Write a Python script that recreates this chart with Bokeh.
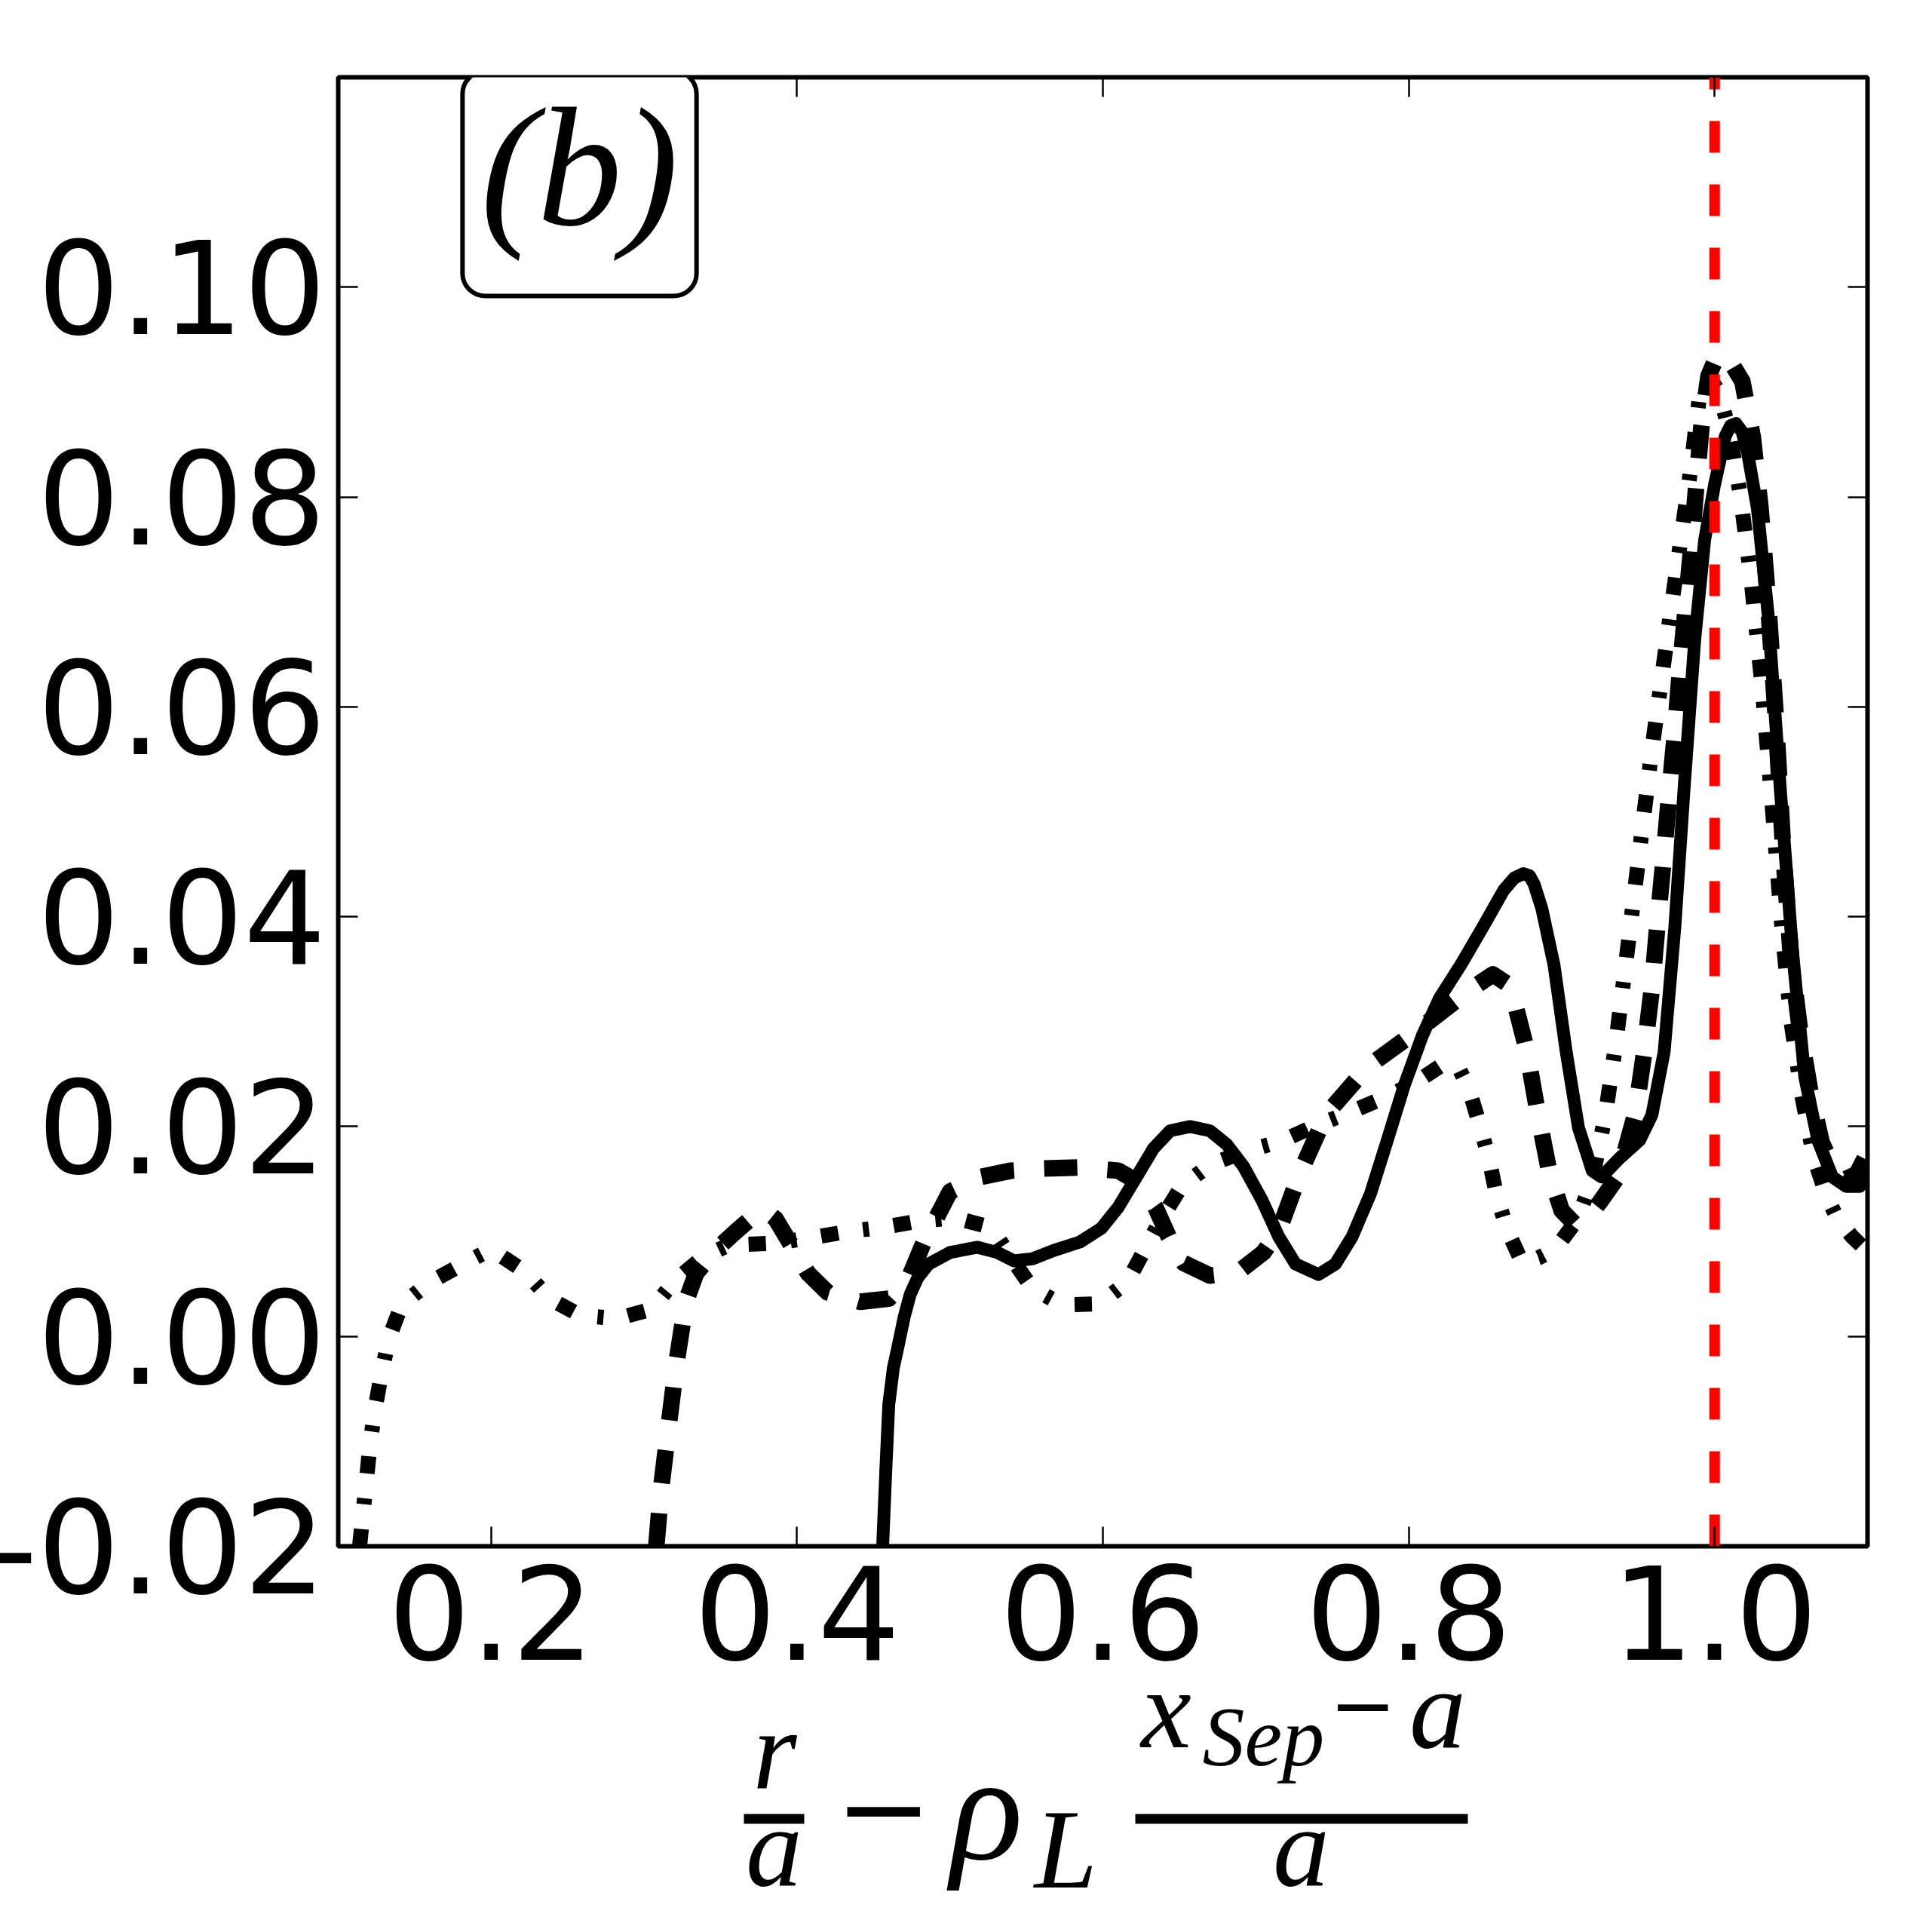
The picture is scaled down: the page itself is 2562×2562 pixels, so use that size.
from bokeh.plotting import figure
from bokeh.layouts import column
from bokeh.models import (Range1d, FixedTicker, LinearAxis, CustomJSTickFormatter, Label)
from bokeh.embed import file_html
from bokeh.resources import INLINE
from bokeh.core.properties import value

# ---------------- data ----------------
x_ticks = [0.2, 0.4, 0.6, 0.8, 1.0]
x_tick_labels = ["0.2", "0.4", "0.6", "0.8", "1.0"]
y_ticks = [-0.02, 0.0, 0.02, 0.04, 0.06, 0.08, 0.10]
y_tick_labels = ["-0.02", "0.00", "0.02", "0.04", "0.06", "0.08", "0.10"]

sep_x = 1.0  # separatrix position (red dashed line)

solid_x = [0.4560, 0.4580, 0.4600, 0.4630, 0.4660, 0.4700, 0.4740, 0.4790, 0.4860, 0.5000,
           0.5180, 0.5310, 0.5420, 0.5540, 0.5680, 0.5850, 0.5990, 0.6100, 0.6220, 0.6330,
           0.6440, 0.6570, 0.6700, 0.6810, 0.6920, 0.7040, 0.7150, 0.7260, 0.7410, 0.7520,
           0.7630, 0.7750, 0.7860, 0.7970, 0.8090, 0.8200, 0.8340, 0.8480, 0.8620, 0.8690,
           0.8750, 0.8790, 0.8820, 0.8870, 0.8950, 0.9030, 0.9110, 0.9200, 0.9260, 0.9380,
           0.9510, 0.9590, 0.9670, 0.9740, 0.9800, 0.9870, 0.9935, 1.0000, 1.0070, 1.0105,
           1.0140, 1.0180, 1.0215, 1.0280, 1.0350, 1.0430, 1.0510, 1.0590, 1.0675, 1.0770,
           1.0860, 1.0950, 1.1000]
solid_y = [-0.0200, -0.0130, -0.0065, -0.0030, -0.0010, 0.0018, 0.0040, 0.0056, 0.0069, 0.0080,
           0.0085, 0.0080, 0.0072, 0.0074, 0.0082, 0.0090, 0.0103, 0.0123, 0.0152, 0.0179,
           0.0196, 0.0200, 0.0196, 0.0183, 0.0162, 0.0130, 0.0095, 0.0069, 0.0059, 0.0069,
           0.0095, 0.0136, 0.0187, 0.0239, 0.0287, 0.0322, 0.0354, 0.0389, 0.0425, 0.0437,
           0.0441, 0.0439, 0.0431, 0.0408, 0.0354, 0.0271, 0.0199, 0.0158, 0.0152, 0.0170,
           0.0187, 0.0211, 0.0271, 0.0390, 0.0521, 0.0664, 0.0759, 0.0812, 0.0858, 0.0868,
           0.0870, 0.0862, 0.0843, 0.0789, 0.0688, 0.0521, 0.0366, 0.0247, 0.0187, 0.0152,
           0.0143, 0.0143, 0.0152]

dashed_x = [0.3080, 0.3112, 0.3162, 0.3213, 0.3275, 0.3340, 0.3450, 0.3600, 0.3720, 0.3791,
            0.3860, 0.3950, 0.4073, 0.4200, 0.4413, 0.4600, 0.4735, 0.4830, 0.4915, 0.5000,
            0.5204, 0.5400, 0.5614, 0.5850, 0.6100, 0.6220, 0.6344, 0.6430, 0.6528, 0.6700,
            0.6882, 0.7050, 0.7151, 0.7292, 0.7462, 0.7731, 0.8043, 0.8396, 0.8550, 0.8665,
            0.8770, 0.8840, 0.8920, 0.9000, 0.9080, 0.9150, 0.9250, 0.9370, 0.9483, 0.9541,
            0.9590, 0.9626, 0.9664, 0.9700, 0.9738, 0.9771, 0.9807, 0.9845, 0.9878, 0.9914,
            0.9960, 1.0017, 1.0100, 1.0182, 1.0250, 1.0300, 1.0350, 1.0400, 1.0450, 1.0500,
            1.0560, 1.0630, 1.0700, 1.0780, 1.0860, 1.0930, 1.1000]
dashed_y = [-0.0200, -0.0144, -0.0084, -0.0024, 0.0034, 0.0060, 0.0080, 0.0100, 0.0115, 0.0120,
            0.0112, 0.0090, 0.0060, 0.0042, 0.0033, 0.0036, 0.0057, 0.0090, 0.0114, 0.0138,
            0.0152, 0.0158, 0.0160, 0.0161, 0.0158, 0.0148, 0.0123, 0.0095, 0.0070, 0.0058,
            0.0061, 0.0080, 0.0101, 0.0157, 0.0212, 0.0257, 0.0290, 0.0330, 0.0345, 0.0334,
            0.0274, 0.0216, 0.0156, 0.0120, 0.0108, 0.0110, 0.0128, 0.0153, 0.0213, 0.0272,
            0.0332, 0.0392, 0.0451, 0.0511, 0.0570, 0.0630, 0.0688, 0.0748, 0.0807, 0.0867,
            0.0915, 0.0935, 0.0930, 0.0910, 0.0857, 0.0790, 0.0700, 0.0590, 0.0460, 0.0360,
            0.0290, 0.0230, 0.0185, 0.0160, 0.0150, 0.0155, 0.0175]

dashdot_x = [0.1140, 0.1157, 0.1182, 0.1205, 0.1238, 0.1281, 0.1331, 0.1414, 0.1590, 0.1804,
             0.2000, 0.2219, 0.2382, 0.2584, 0.2823, 0.3049, 0.3200, 0.3389, 0.3552, 0.3854,
             0.4093, 0.4332, 0.4564, 0.4798, 0.5034, 0.5269, 0.5400, 0.5538, 0.5736, 0.5976,
             0.6160, 0.6274, 0.6378, 0.6514, 0.6704, 0.6924, 0.7165, 0.7377, 0.7604, 0.7816,
             0.8034, 0.8241, 0.8330, 0.8391, 0.8459, 0.8524, 0.8572, 0.8643, 0.8742, 0.8850,
             0.8957, 0.9105, 0.9200, 0.9286, 0.9352, 0.9412, 0.9470, 0.9527, 0.9585, 0.9651,
             0.9716, 0.9782, 0.9848, 0.9905, 0.9960, 1.0030, 1.0100, 1.0170, 1.0240, 1.0310,
             1.0380, 1.0440, 1.0500, 1.0570, 1.0650, 1.0730, 1.0800, 1.0900, 1.1000]
dashdot_y = [-0.0200, -0.0175, -0.0141, -0.0107, -0.0071, -0.0037, -0.0002, 0.0030, 0.0051, 0.0068,
             0.0083, 0.0062, 0.0036, 0.0020, 0.0017, 0.0026, 0.0053, 0.0076, 0.0087, 0.0089,
             0.0094, 0.0100, 0.0104, 0.0110, 0.0113, 0.0104, 0.0075, 0.0046, 0.0030, 0.0031,
             0.0052, 0.0083, 0.0111, 0.0143, 0.0164, 0.0176, 0.0186, 0.0200, 0.0213, 0.0226,
             0.0241, 0.0261, 0.0255, 0.0237, 0.0204, 0.0170, 0.0136, 0.0102, 0.0070, 0.0075,
             0.0083, 0.0112, 0.0150, 0.0211, 0.0277, 0.0347, 0.0416, 0.0484, 0.0554, 0.0624,
             0.0694, 0.0762, 0.0831, 0.0901, 0.0915, 0.0900, 0.0860, 0.0800, 0.0720, 0.0620,
             0.0500, 0.0390, 0.0300, 0.0230, 0.0170, 0.0135, 0.0113, 0.0095, 0.0081]

# ---------------- layout (page pixels) ----------------
SHIFT = -52                      # column pushed left so "-0.02" is cut like the original
ORIGIN_X = SHIFT                 # page x of the figures' left edge
BL, BT, BR, BB = 500, 102, 70, 250  # borders of the main figure
FW, FH = 2028, 1948              # frame size
FIG_W = BL + FW + BR
MAIN_H = BT + FH + BB
STRIP_TOP = 2220                 # page y where the formula strip starts (overlaps border)
STRIP_H = 330
TEXT_DY = -47                    # correction for how text baselines land in the strip
X0, X1 = 0.1, 1.1
Y0, Y1 = -0.02, 0.12

p = figure(frame_width=FW, frame_height=FH, x_range=Range1d(X0, X1), y_range=Range1d(Y0, Y1),
           x_axis_type=None, y_axis_type=None,
           output_backend="svg", toolbar_location=None,
           min_border_left=BL, min_border_top=BT, min_border_right=BR, min_border_bottom=BB)
p.background_fill_color = "white"
p.border_fill_color = "white"
p.outline_line_color = "black"
p.outline_line_width = 6

label_code = """
let best = 0;
for (let i = 0; i < tvals.length; i++) {
  if (Math.abs(tvals[i] - tick) < Math.abs(tvals[best] - tick)) { best = i; }
}
return tlabs[best];
"""


def make_axis(ticks, labels=None, standoff=0):
    if labels is None:
        fmt = CustomJSTickFormatter(code="return ''")
    else:
        fmt = CustomJSTickFormatter(args=dict(tvals=ticks, tlabs=labels), code=label_code)
    return LinearAxis(ticker=FixedTicker(ticks=ticks), formatter=fmt,
                      major_tick_in=26, major_tick_out=0,
                      major_tick_line_width=2.5, major_tick_line_color="black",
                      minor_tick_line_color=None, axis_line_color=None,
                      major_label_standoff=standoff,
                      major_label_text_font="DejaVu Sans",
                      major_label_text_font_size="172px",
                      major_label_text_color="black")


p.add_layout(make_axis(x_ticks, x_tick_labels, standoff=25), "below")
p.add_layout(make_axis(y_ticks, y_tick_labels, standoff=16), "left")
top_ax = make_axis(x_ticks)
top_ax.major_label_text_font_size = "1px"
right_ax = make_axis(y_ticks)
right_ax.major_label_text_font_size = "1px"
p.add_layout(top_ax, "above")
p.add_layout(right_ax, "right")

# curves
p.line(solid_x, solid_y, line_color="black", line_width=17, line_join="round")
p.line(dashed_x, dashed_y, line_color="black", line_width=22, line_dash="44 40",
       line_join="round")
p.line(dashdot_x, dashdot_y, line_color="black", line_width=20, line_dash="23 33 8 33",
       line_join="round")
p.line([sep_x, sep_x], [Y0, Y1], line_color="red", line_width=14, line_dash="42 42")

# panel tag (box centre given in data units of the frame)
tag = Label(x=X0 + (768 - 448) / FW * (X1 - X0), y=Y1 - (243 - 102) / FH * (Y1 - Y0),
            text="(b)", text_font="Liberation Serif",
            text_font_size="225px", text_font_style="italic",
            text_align="center", text_baseline="middle", text_color="black",
            border_line_color="black", border_line_width=6,
            background_fill_color="white", padding=24, border_radius=30)
try:
    tag.padding = dict(left=24, right=24, top=2, bottom=46)
except Exception:
    pass
p.add_layout(tag)

# ---------------- x-axis label strip:  r/a - rho_L (x_Sep - a)/a ----------------
q = figure(width=FIG_W, height=STRIP_H,
           x_range=Range1d(ORIGIN_X, ORIGIN_X + FIG_W),
           y_range=Range1d(STRIP_TOP + STRIP_H, STRIP_TOP),
           x_axis_type=None, y_axis_type=None, output_backend="svg", toolbar_location=None,
           min_border_left=0, min_border_right=0, min_border_top=0, min_border_bottom=0,
           styles={"margin-top": f"{STRIP_TOP - MAIN_H}px"})
q.outline_line_color = None
q.background_fill_color = None
q.border_fill_color = None
q.grid.visible = False
for fig in (p, q):
    try:
        fig.frame_align = False
    except Exception:
        pass


def mtext(t, x, y, size, font="Liberation Serif", style="italic", align="center"):
    q.text(x=[x], y=[y + TEXT_DY], text=[t], text_font=value(font),
           text_font_size=value(f"{size}px"),
           text_font_style=style, text_align=align, text_baseline="alphabetic",
           text_color="black")


mtext("r", 1027, 2367, 150)
mtext("a", 1026, 2495, 150)
mtext("\u2212", 1171, 2441, 154, font="DejaVu Sans", style="normal")
mtext("\u03c1", 1308, 2444, 200)
mtext("L", 1413, 2498, 150)
mtext("x", 1546, 2312, 150)
mtext("Sep", 1594, 2349, 112, align="left")
mtext("\u2212", 1807, 2306, 106, font="DejaVu Sans", style="normal")
mtext("a", 1906, 2312, 150)
mtext("a", 1725, 2495, 150)
q.segment(x0=[986, 1505], y0=[2411.5, 2411.5], x1=[1066, 1946], y1=[2411.5, 2411.5],
          line_color="black", line_width=13)

layout = column(p, q, spacing=0, styles={"margin-left": f"{SHIFT}px"})
open("out.html", "w").write(file_html(layout, INLINE))
